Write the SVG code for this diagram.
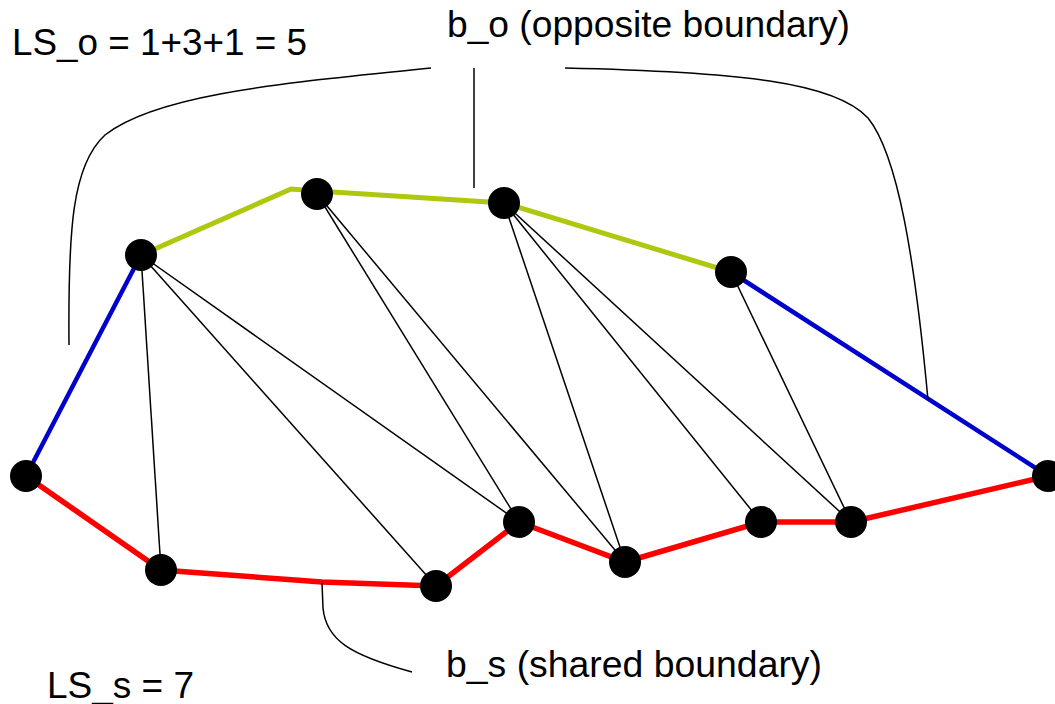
<svg xmlns="http://www.w3.org/2000/svg" width="1055" height="704" viewBox="0 0 1055 704">
<style>
.lbl{font-family:"Liberation Sans",Arial,sans-serif;font-size:36px;fill:#000}
.tri{stroke:#000;stroke-width:1.5;fill:none}
.call{stroke:#000;stroke-width:1.5;fill:none}
.green{stroke:#afc80f;stroke-width:5;fill:none;stroke-linejoin:miter}
.blue{stroke:#0000cc;stroke-width:4.5;fill:none}
.red{stroke:#ff0000;stroke-width:5.5;fill:none}
.node{fill:#000}
</style>
<rect width="1055" height="704" fill="#fff"/>
<g id="connectors">
  <g id="triangulation">
    <line class="tri" x1="141" y1="255" x2="161" y2="570"/>
    <line class="tri" x1="141" y1="255" x2="436" y2="586"/>
    <line class="tri" x1="141" y1="255" x2="519" y2="522"/>
    <line class="tri" x1="317" y1="194" x2="519" y2="522"/>
    <line class="tri" x1="317" y1="194" x2="625" y2="562"/>
    <line class="tri" x1="504" y1="203" x2="625" y2="562"/>
    <line class="tri" x1="504" y1="203" x2="761" y2="522"/>
    <line class="tri" x1="504" y1="203" x2="851" y2="522"/>
    <line class="tri" x1="731" y1="272" x2="851" y2="522"/>
  </g>
  <polyline id="opposite" class="green" points="141,255 291,189 317,191 504,203 731,272"/>
  <line id="blue-left" class="blue" x1="26" y1="476" x2="141" y2="255"/>
  <line id="blue-right" class="blue" x1="731" y1="272" x2="1048" y2="476"/>
  <polyline id="shared" class="red" points="26,476 161,570 322,582 436,586 519,522 625,562 761,522 851,522 1048,476"/>
  <g id="callouts">
    <path class="call" d="M431,68 C300,82 160,92 105,135 C72,165 68,230 69,345"/>
    <line class="call" x1="474" y1="68" x2="474" y2="188"/>
    <path class="call" d="M565,68 C740,72 835,82 868,118 C898,155 915,260 928,400"/>
    <path class="call" d="M322,583 L323,608 C326,640 350,655 412,672"/>
  </g>
</g>
<g id="nodes">
  <circle id="n1" class="node" cx="26" cy="476" r="16"/>
  <circle id="n2" class="node" cx="141" cy="255" r="16"/>
  <circle id="n3" class="node" cx="317" cy="194" r="16"/>
  <circle id="n4" class="node" cx="504" cy="203" r="16"/>
  <circle id="n5" class="node" cx="731" cy="272" r="16"/>
  <circle id="n6" class="node" cx="1048" cy="476" r="16"/>
  <circle id="n7" class="node" cx="161" cy="570" r="16"/>
  <circle id="n8" class="node" cx="436" cy="586" r="16"/>
  <circle id="n9" class="node" cx="519" cy="522" r="16"/>
  <circle id="n10" class="node" cx="625" cy="562" r="16"/>
  <circle id="n11" class="node" cx="761" cy="522" r="16"/>
  <circle id="n12" class="node" cx="851" cy="522" r="16"/>
</g>
<g id="labels">
  <text class="lbl" x="12" y="55" textLength="295" lengthAdjust="spacingAndGlyphs">LS_o = 1+3+1 = 5</text>
  <text class="lbl" x="447" y="37" textLength="403" lengthAdjust="spacingAndGlyphs">b_o (opposite boundary)</text>
  <text class="lbl" x="446" y="677" textLength="376" lengthAdjust="spacingAndGlyphs">b_s (shared boundary)</text>
  <text class="lbl" x="47" y="698" textLength="147" lengthAdjust="spacingAndGlyphs">LS_s = 7</text>
</g>
</svg>
